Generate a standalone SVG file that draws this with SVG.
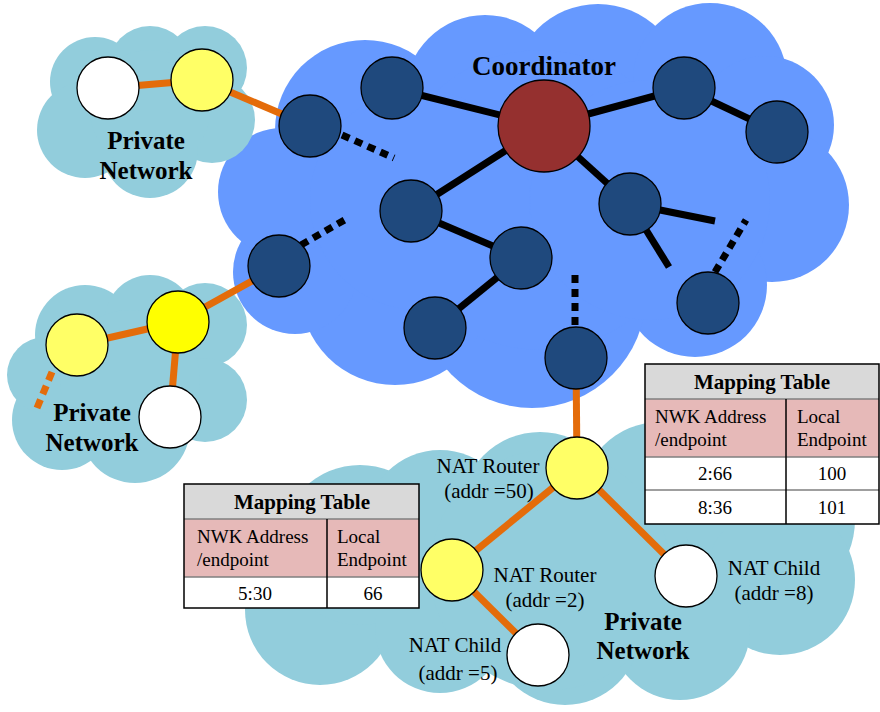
<svg xmlns="http://www.w3.org/2000/svg" width="880" height="712" viewBox="0 0 880 712">
<style>
.big{fill:#6699ff}
.lt{fill:#92cddc}
.dn{fill:#1f497d;stroke:#000;stroke-width:1.3}
.yl{fill:#ffff66;stroke:#000;stroke-width:1.3}
.yb{fill:#ffff00;stroke:#000;stroke-width:1.3}
.wh{fill:#fff;stroke:#000;stroke-width:1.3}
.co{fill:#95302f;stroke:#000;stroke-width:1.3}
.bk{stroke:#000;stroke-width:7;fill:none}
.bkd{stroke:#000;stroke-width:7;fill:none;stroke-dasharray:8 6}
.or{stroke:#e46c0a;stroke-width:7;fill:none}
.ord{stroke:#e46c0a;stroke-width:7;fill:none;stroke-dasharray:9 6}
.tb{font-family:"Liberation Serif","Times New Roman",serif;font-weight:bold;font-size:25px;fill:#000;text-anchor:middle}
.tco{font-family:"Liberation Serif","Times New Roman",serif;font-weight:bold;font-size:27px;fill:#000;text-anchor:middle}
.tr{font-family:"Liberation Serif","Times New Roman",serif;font-size:21px;fill:#000;text-anchor:middle}
.th{font-family:"Liberation Serif","Times New Roman",serif;font-weight:bold;font-size:21px;fill:#000;text-anchor:middle}
.tc{font-family:"Liberation Serif","Times New Roman",serif;font-size:19px;fill:#000}
.tcm{font-family:"Liberation Serif","Times New Roman",serif;font-size:19px;fill:#000;text-anchor:middle}
.hd{fill:#d9d9d9}
.pk{fill:#e6b9b8}
.wc{fill:#fff}
.ln{stroke:#000;stroke-width:1.5;fill:none}
.lg{stroke:#7f7f7f;stroke-width:1.5;fill:none}
</style>

<g id="cloud-main" class="big">
<circle cx="365" cy="130" r="90"/>
<circle cx="485" cy="95" r="80"/>
<circle cx="598" cy="90" r="86"/>
<circle cx="710" cy="80" r="77"/>
<circle cx="765" cy="125" r="69"/>
<circle cx="772" cy="205" r="77"/>
<circle cx="695" cy="285" r="72"/>
<circle cx="532" cy="294" r="114"/>
<circle cx="395" cy="290" r="95"/>
<circle cx="295" cy="272" r="62"/>
<circle cx="282" cy="192" r="64"/>
<circle cx="540" cy="200" r="150"/>
<circle cx="650" cy="200" r="120"/>
<circle cx="420" cy="200" r="110"/>
</g>

<g id="cloud-top-left" class="lt">
<circle cx="95" cy="82" r="45"/>
<circle cx="150" cy="68" r="42"/>
<circle cx="205" cy="68" r="42"/>
<circle cx="212" cy="120" r="43"/>
<circle cx="150" cy="150" r="48"/>
<circle cx="85" cy="130" r="48"/>
<circle cx="150" cy="110" r="60"/>
</g>

<g id="cloud-left" class="lt">
<circle cx="85" cy="335" r="50"/>
<circle cx="150" cy="320" r="45"/>
<circle cx="205" cy="325" r="42"/>
<circle cx="205" cy="400" r="42"/>
<circle cx="135" cy="428" r="55"/>
<circle cx="62" cy="420" r="50"/>
<circle cx="45" cy="375" r="38"/>
<circle cx="130" cy="380" r="70"/>
</g>

<g id="cloud-bottom" class="lt">
<circle cx="320" cy="610" r="75"/>
<circle cx="360" cy="545" r="80"/>
<circle cx="440" cy="525" r="75"/>
<circle cx="540" cy="512" r="80"/>
<circle cx="660" cy="502" r="80"/>
<circle cx="770" cy="520" r="85"/>
<circle cx="780" cy="580" r="75"/>
<circle cx="680" cy="630" r="70"/>
<circle cx="565" cy="630" r="75"/>
<circle cx="440" cy="628" r="65"/>
<circle cx="550" cy="570" r="120"/>
</g>

<g id="connectors">
<line class="bk" x1="392" y1="88" x2="544" y2="126"/>
<line class="bk" x1="544" y1="126" x2="684" y2="88"/>
<line class="bk" x1="684" y1="88" x2="777" y2="132"/>
<line class="bk" x1="544" y1="126" x2="411" y2="211"/>
<line class="bk" x1="544" y1="126" x2="630" y2="204"/>
<line class="bk" x1="411" y1="211" x2="521" y2="258"/>
<line class="bk" x1="521" y1="258" x2="435" y2="328"/>
<line class="bk" x1="630" y1="204" x2="715" y2="221"/>
<line class="bk" x1="630" y1="204" x2="669" y2="267"/>
<line class="bkd" x1="342" y1="135" x2="394" y2="158"/>
<line class="bkd" x1="301" y1="245" x2="348" y2="218"/>
<line class="bkd" x1="575" y1="275" x2="575" y2="328"/>
<line class="bkd" x1="715" y1="272" x2="746" y2="220"/>
<line class="or" x1="108" y1="88" x2="202" y2="80"/>
<line class="or" x1="202" y1="80" x2="310" y2="126"/>
<line class="or" x1="279" y1="266" x2="178" y2="322"/>
<line class="or" x1="178" y1="322" x2="77" y2="345"/>
<line class="or" x1="178" y1="322" x2="170" y2="417"/>
<line class="ord" x1="52" y1="372" x2="37" y2="408"/>
<line class="or" x1="576" y1="358" x2="577" y2="468"/>
<line class="or" x1="577" y1="468" x2="452" y2="570"/>
<line class="or" x1="577" y1="468" x2="686" y2="576"/>
<line class="or" x1="452" y1="570" x2="538" y2="655"/>
</g>

<g id="coordinator"><circle class="co" cx="544" cy="126" r="46"/><text class="tco" x="544" y="75">Coordinator</text></g>
<g id="n1"><circle class="dn" cx="392" cy="88" r="31"/></g>
<g id="n2"><circle class="dn" cx="310" cy="126" r="31"/></g>
<g id="n3"><circle class="dn" cx="684" cy="88" r="31"/></g>
<g id="n4"><circle class="dn" cx="777" cy="132" r="31"/></g>
<g id="n5"><circle class="dn" cx="411" cy="211" r="31"/></g>
<g id="n6"><circle class="dn" cx="630" cy="204" r="31"/></g>
<g id="n7"><circle class="dn" cx="521" cy="258" r="31"/></g>
<g id="n8"><circle class="dn" cx="279" cy="266" r="31"/></g>
<g id="n9"><circle class="dn" cx="435" cy="328" r="31"/></g>
<g id="n10"><circle class="dn" cx="576" cy="358" r="31"/></g>
<g id="n11"><circle class="dn" cx="708" cy="303" r="31"/></g>

<g id="tl-white"><circle class="wh" cx="108" cy="88" r="31"/></g>
<g id="tl-yellow"><circle class="yl" cx="202" cy="80" r="31"/></g>
<g id="tl-label"><text class="tb" x="146" y="149">Private</text><text class="tb" x="146" y="179">Network</text></g>

<g id="l-yellow-light"><circle class="yl" cx="77" cy="345" r="31"/></g>
<g id="l-yellow"><circle class="yb" cx="178" cy="322" r="31"/></g>
<g id="l-white"><circle class="wh" cx="170" cy="417" r="31"/></g>
<g id="l-label"><text class="tb" x="92" y="421">Private</text><text class="tb" x="92" y="451">Network</text></g>

<g id="nat-router-50"><circle class="yl" cx="577" cy="468" r="31"/><text class="tr" x="488" y="473">NAT Router</text><text class="tr" x="489" y="498">(addr =50)</text></g>
<g id="nat-router-2"><circle class="yl" cx="452" cy="570" r="31"/><text class="tr" x="545" y="582">NAT Router</text><text class="tr" x="545" y="607">(addr =2)</text></g>
<g id="nat-child-8"><circle class="wh" cx="686" cy="576" r="31"/><text class="tr" x="774" y="575">NAT Child</text><text class="tr" x="774" y="600">(addr =8)</text></g>
<g id="nat-child-5"><circle class="wh" cx="538" cy="655" r="31"/><text class="tr" x="455" y="652">NAT Child</text><text class="tr" x="458" y="680">(addr =5)</text></g>
<g id="b-label"><text class="tb" x="643" y="630">Private</text><text class="tb" x="643" y="659">Network</text></g>

<g id="table-right">
<rect class="hd" x="645" y="364" width="234" height="35"/>
<rect class="pk" x="645" y="399" width="234" height="58"/>
<rect class="wc" x="645" y="457" width="234" height="67"/>
<line class="lg" x1="645" y1="399" x2="879" y2="399"/>
<line class="lg" x1="645" y1="457" x2="879" y2="457"/>
<line class="lg" x1="645" y1="490" x2="879" y2="490"/>
<line class="ln" x1="786" y1="399" x2="786" y2="524"/>
<rect class="ln" x="645" y="364" width="234" height="160"/>
<text class="th" x="762" y="389">Mapping Table</text>
<text class="tc" x="655" y="423">NWK Address</text>
<text class="tc" x="655" y="446">/endpoint</text>
<text class="tc" x="797" y="423">Local</text>
<text class="tc" x="797" y="446">Endpoint</text>
<text class="tcm" x="715" y="480">2:66</text>
<text class="tcm" x="832" y="480">100</text>
<text class="tcm" x="715" y="514">8:36</text>
<text class="tcm" x="832" y="514">101</text>
</g>

<g id="table-left">
<rect class="hd" x="184" y="484" width="235" height="35"/>
<rect class="pk" x="184" y="519" width="235" height="58"/>
<rect class="wc" x="184" y="577" width="235" height="31"/>
<line class="lg" x1="184" y1="519" x2="419" y2="519"/>
<line class="lg" x1="184" y1="577" x2="419" y2="577"/>
<line class="ln" x1="327" y1="519" x2="327" y2="608"/>
<rect class="ln" x="184" y="484" width="235" height="124"/>
<text class="th" x="302" y="509">Mapping Table</text>
<text class="tc" x="197" y="543">NWK Address</text>
<text class="tc" x="197" y="566">/endpoint</text>
<text class="tc" x="337" y="543">Local</text>
<text class="tc" x="337" y="566">Endpoint</text>
<text class="tcm" x="255" y="600">5:30</text>
<text class="tcm" x="373" y="600">66</text>
</g>
</svg>
